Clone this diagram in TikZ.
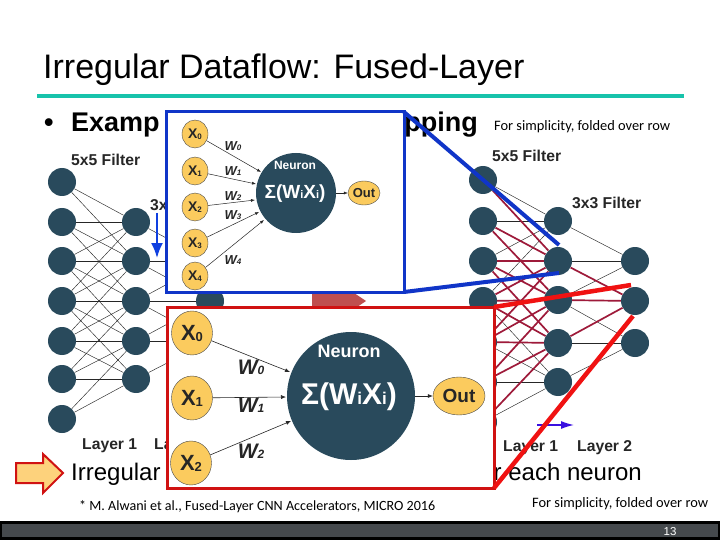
\documentclass[tikz,border=0pt]{standalone}
\usepackage{fontspec}
\setmainfont{Liberation Sans}
\newfontfamily\carl{Carlito}
\usetikzlibrary{arrows.meta,shapes.geometric}
\definecolor{nav}{HTML}{294A5C}
\definecolor{gold}{HTML}{FBCB5E}
\definecolor{bluebox}{HTML}{1035C8}
\definecolor{redbox}{HTML}{D01212}
\definecolor{redline}{HTML}{F01212}
\definecolor{maroon}{HTML}{9E1A3A}
\definecolor{rulec}{HTML}{17C3AB}
\definecolor{barc}{HTML}{45494D}
\definecolor{centrec}{HTML}{BF4F4F}
\definecolor{blockc}{HTML}{FDD27C}
\definecolor{bluearrow}{HTML}{1040E0}
\definecolor{violetarrow}{HTML}{3A10E0}
\tikzset{
  x=1pt,y=-1pt,
  unit/.style={circle,fill=nav,draw=none,minimum size=28pt,inner sep=0pt},
  thinlink/.style={draw=black!85,line width=0.45pt},
  redlink/.style={draw=maroon,line width=1.7pt},
  inx/.style={ellipse,fill=gold,draw=black!70,line width=0.4pt,inner sep=0pt,text=black!85},
  syn/.style={-{Latex[length=4pt,width=3pt]},draw=black!85,line width=0.5pt},
  syntwo/.style={-{Latex[length=5pt,width=4pt]},draw=black!85,line width=0.6pt},
  lab/.style={font=\bfseries\fontsize{15.7}{16}\selectfont,text=black!85,inner sep=0pt,anchor=base west},
  wlab/.style={text=black!85,inner sep=0pt},
  stxt/.style={inner sep=0pt,anchor=base west},
  note/.style={stxt,font=\carl\fontsize{14.4}{15}\selectfont},
  head/.style={inner sep=0pt,font=\bfseries\fontsize{27}{27}\selectfont},
  body/.style={inner sep=0pt,font=\fontsize{24}{24}\selectfont}
}
\begin{document}
\begin{tikzpicture}
\useasboundingbox (0,0) rectangle (720,540);
\fill[white] (0,0) rectangle (720,540);
% title
\node[stxt,font=\fontsize{34}{34}\selectfont] (title) at (43,79) {Irregular Dataflow: Fused-Layer};
\fill[rulec] (37,94.5) rectangle (684,98.5);
\node[head,anchor=base west] (bul) at (44,132) {•};
\node[head,anchor=base west] (ex1) at (71,132) {Examp};
\node[head,anchor=base east] (ex2) at (478,132) {pping};
\node[note] (f1) at (494,131) {For simplicity, folded over row};
\node[note] (f2) at (532,507) {For simplicity, folded over row};
\node[note,font=\carl\fontsize{14.1}{15}\selectfont] (cite) at (79,510) {* M. Alwani et al., Fused-Layer CNN Accelerators, MICRO 2016};
% left net
\foreach \r/\y in {0/182,1/222,2/261,3/301,4/341,5/379,6/419} \node[unit] (a\r) at (62,\y) {};
\foreach \r/\y in {1/222,2/261,3/301,4/341,5/379} \node[unit] (b\r) at (136,\y) {};
\foreach \r/\y in {2/261,3/301,4/341} \node[unit] (c\r) at (210,\y) {};
\foreach \i/\j in {0/1,1/1,2/1,3/1,0/2,1/2,2/2,3/2,4/2,1/3,2/3,3/3,4/3,5/3,2/4,3/4,4/4,5/4,6/4,3/5,4/5,5/5,6/5}
  \draw[thinlink] (a\i) -- (b\j);
\foreach \i/\j in {1/2,2/2,3/2,2/3,3/3,4/3,3/4,4/4,5/4}
  \draw[thinlink] (b\i) -- (c\j);
% right net
\foreach \r/\y in {0/180,1/221,2/261,3/301,4/342,5/382,6/422} \node[unit] (d\r) at (483,\y) {};
\foreach \r/\y in {1/221,2/261,3/300,4/343,5/382} \node[unit] (e\r) at (558,\y) {};
\foreach \r/\y in {2/261,3/301,4/343} \node[unit] (g\r) at (635,\y) {};
\foreach \i/\j in {0/1,1/1,2/1,3/1,3/5,4/5,5/5,6/5}
  \draw[thinlink] (d\i) -- (e\j);
\foreach \i/\j in {1/2,2/2,3/2,3/4,4/4,5/4}
  \draw[thinlink] (e\i) -- (g\j);
\foreach \i/\j in {0/2,1/2,2/2,3/2,4/2,1/3,2/3,3/3,4/3,5/3,2/4,3/4,4/4,5/4,6/4}
  \draw[redlink] (d\i) -- (e\j);
\foreach \i in {2,3,4} \draw[redlink] (e\i) -- (g3);
% net labels
\node[lab] (l1) at (71,166) {5x5 Filter};
\node[lab] (l2) at (150,211) {3x};
\node[lab] (l3) at (492,162) {5x5 Filter};
\node[lab] (l4) at (572,208) {3x3 Filter};
\node[lab] (l5) at (82,449) {Layer 1};
\node[lab] (l6) at (154,449) {La};
\node[lab] (l7) at (503,451) {Layer 1};
\node[lab] (l8) at (577,451) {Layer 2};
% small arrows
\coordinate (pa) at (157,213); \coordinate (pb) at (157,258);
\draw[bluearrow,line width=2pt,-{Latex[length=15pt,width=12pt]}] (pa) -- (pb);
\coordinate (qa) at (537,425); \coordinate (qb) at (574,425);
\draw[violetarrow,line width=1.4pt,-{Latex[length=13pt,width=8pt]}] (qa) -- (qb);
% centre arrow
\fill[centrec] (312,287) -- (345,287) -- (366,301) -- (345,315) -- (312,315) -- cycle;
% body text
\node[body,anchor=base west] (t1) at (71,480) {Irregular};
\node[body,anchor=base east] (t2) at (642,480) {r each neuron};
% red block arrow
\draw[draw=redbox,line width=2pt,fill=blockc] (16,463) -- (43,463) -- (43,454) -- (63,473) -- (43,493) -- (43,483) -- (16,483) -- cycle;
% callout blue
\node[draw=bluebox,line width=3pt,fill=white,minimum width=238pt,minimum height=180pt,inner sep=0pt,outer sep=0pt] (bb) at (285,202) {};
\coordinate (bx1) at (559,245); \coordinate (bx2) at (559,273);
\draw[bluebox,line width=4pt] (bb.north east) -- (bx1);
\draw[bluebox,line width=4pt] (bb.south east) -- (bx2);
\foreach \r/\y in {0/134,1/171,2/207,3/243,4/276} \node[inx,minimum width=26pt,minimum height=28pt,font=\bfseries\fontsize{14}{14}\selectfont] (sx\r) at (195,\y) {X{\fontsize{8}{8}\selectfont\raisebox{-0.5pt}{\r}}};
\node[circle,fill=nav,minimum size=80pt,inner sep=0pt] (sn) at (296,193) {};
\node[font=\bfseries\fontsize{12}{12}\selectfont,text=white,inner sep=0pt] (sn1) at (295,165) {Neuron};
\node[font=\bfseries\fontsize{19}{19}\selectfont,text=white,inner sep=0pt] (sn2) at (295,194) {Σ(W{\fontsize{11}{11}\selectfont i}X{\fontsize{11}{11}\selectfont i})};
\node[inx,minimum width=32pt,minimum height=24pt,font=\bfseries\fontsize{13}{13}\selectfont] (so) at (364,193) {Out};
\coordinate (s0) at (261,172); \coordinate (s1) at (256,184); \coordinate (s2) at (255,200); \coordinate (s3) at (259,212); \coordinate (s4) at (264,220);
\foreach \r in {0,...,4} \draw[syn] (sx\r) -- (s\r);
\draw[syn] (sn) -- (so);
\foreach \r/\y in {0/146,1/171,2/196,3/215,4/260} \node[wlab,font=\bfseries\itshape\fontsize{13}{13}\selectfont] (sw\r) at (233,\y) {W{\fontsize{8}{8}\selectfont\r}};
% callout red
\node[draw=redbox,line width=3pt,fill=white,minimum width=327pt,minimum height=181pt,inner sep=0pt,outer sep=0pt] (rb) at (330.5,397.5) {};
\coordinate (rx1) at (631,285); \coordinate (rx2) at (633,316);
\draw[redline,line width=4.5pt] (rb.north east) -- (rx1);
\draw[redline,line width=4.5pt] (rb.south east) -- (rx2);
\foreach \r/\x/\y in {0/192/333,1/192/398,2/191/463} \node[inx,minimum width=41pt,minimum height=44pt,font=\bfseries\fontsize{22}{22}\selectfont] (lx\r) at (\x,\y) {X{\fontsize{13}{13}\selectfont\raisebox{-1pt}{\r}}};
\node[circle,fill=nav,minimum size=128pt,inner sep=0pt] (ln) at (351,396) {};
\node[font=\bfseries\fontsize{18}{18}\selectfont,text=white,inner sep=0pt] (ln1) at (349,351) {Neuron};
\node[font=\bfseries\fontsize{30}{30}\selectfont,text=white,inner sep=0pt] (ln2) at (349,397) {Σ(W{\fontsize{17}{17}\selectfont i}X{\fontsize{17}{17}\selectfont i})};
\node[inx,minimum width=52pt,minimum height=38pt,font=\bfseries\fontsize{19}{19}\selectfont] (lo) at (459,396) {Out};
\coordinate (t0) at (290,372); \coordinate (t1x) at (286,397); \coordinate (t2x) at (291,421);
\draw[syntwo] (lx0) -- (t0);
\draw[syntwo] (lx1) -- (t1x);
\draw[syntwo] (lx2) -- (t2x);
\draw[syntwo] (ln) -- (lo);
\foreach \r/\y in {0/367,1/405,2/451} \node[wlab,font=\bfseries\itshape\fontsize{21}{21}\selectfont] (lw\r) at (251,\y) {W{\fontsize{12}{12}\selectfont\r}};
% footer
\draw[black,line width=2.4pt,fill=barc] (1,522.5) rectangle (719,538.5);
\node[font=\fontsize{11.5}{12}\selectfont,text=white,inner sep=0pt] (pg) at (670,532) {13};
\end{tikzpicture}
\end{document}
